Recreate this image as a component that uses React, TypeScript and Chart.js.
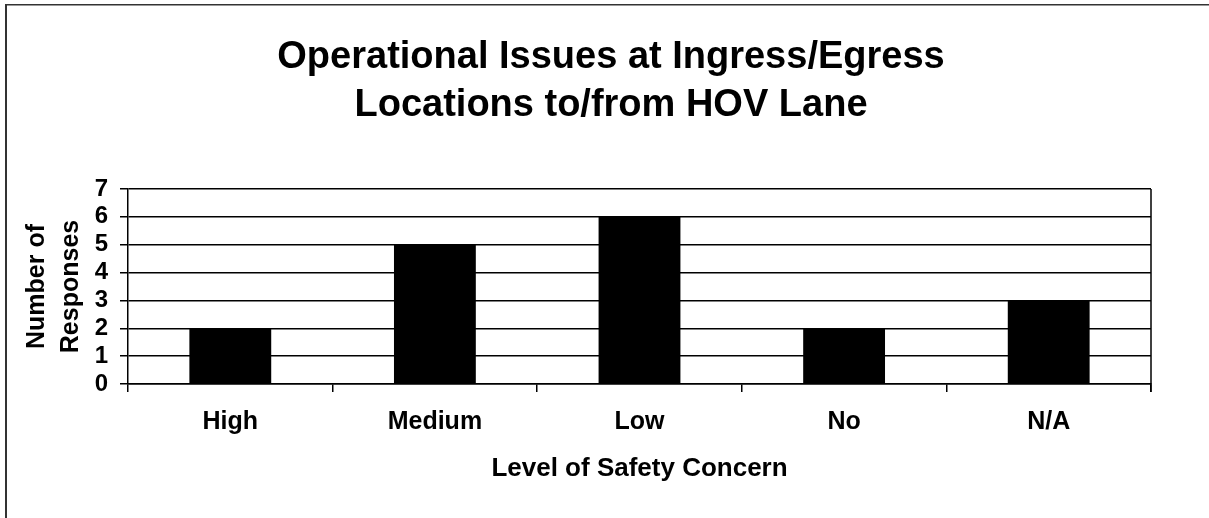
import React, { useEffect, useRef } from "react";
import { Chart, registerables } from "chart.js";

Chart.register(...registerables);

const categories = ["High", "Medium", "Low", "No", "N/A"];
const responses = [2, 5, 6, 2, 3];
const titleLines = ["Operational Issues at Ingress/Egress", "Locations to/from HOV Lane"];
const yTitleLines = ["Number of", "Responses"];
const xTitle = "Level of Safety Concern";
const yMin = 0;
const yMax = 7;
const yStep = 1;

const FONT = "'Liberation Sans', Arial, Helvetica, sans-serif";

const framePlugin = {
  id: "framePlugin",
  beforeDraw(chart: any) {
    const ctx = chart.ctx;
    ctx.save();
    ctx.fillStyle = "#ffffff";
    ctx.fillRect(0, 0, chart.width, chart.height);
    ctx.fillStyle = "#333333";
    ctx.fillRect(5, 4, 2, chart.height - 4);
    ctx.fillRect(5, 4, chart.width - 5, 1.5);
    ctx.restore();
  },
  afterDraw(chart: any) {
    const { ctx, chartArea } = chart;
    ctx.save();
    ctx.strokeStyle = "#000000";
    ctx.lineWidth = 1.5;
    ctx.beginPath();
    ctx.moveTo(chartArea.right, chartArea.top);
    ctx.lineTo(chartArea.right, chartArea.bottom + 8);
    ctx.stroke();
    ctx.restore();
  },
};

export default function App() {
  const ref = useRef<HTMLCanvasElement>(null);

  useEffect(() => {
    document.body.style.margin = "0";
    const canvas = ref.current;
    if (!canvas) return;
    const chart = new Chart(canvas, {
      type: "bar",
      data: {
        labels: categories,
        datasets: [
          {
            data: responses,
            backgroundColor: "#000000",
            borderColor: "#000000",
            borderWidth: 0,
            barPercentage: 0.4,
            categoryPercentage: 1.0,
            yAxisID: "y",
          },
        ],
      },
      options: {
        responsive: false,
        animation: false,
        devicePixelRatio: 1,
        layout: { padding: { left: 13, top: 0, right: 0, bottom: 0 } },
        plugins: {
          legend: { display: false },
          tooltip: { enabled: false },
          title: {
            display: true,
            text: titleLines,
            color: "#000000",
            font: { family: FONT, size: 38, weight: "bold", lineHeight: 1.25 },
            padding: { top: 34, bottom: 60 },
          },
        },
        scales: {
          x: {
            afterFit: (scale: any) => {
              scale.height = 134;
            },
            grid: {
              offset: true,
              drawOnChartArea: false,
              tickLength: 8,
              color: "#000000",
              lineWidth: 1.5,
            },
            border: { display: true, color: "#000000", width: 1.5 },
            ticks: {
              color: "#000000",
              padding: 15,
              font: { family: FONT, size: 25, weight: "bold", lineHeight: 1.2 },
            },
            title: {
              display: true,
              text: xTitle,
              color: "#000000",
              font: { family: FONT, size: 26, weight: "bold", lineHeight: 1.2 },
              padding: { top: 0, bottom: 33.5 },
            },
          },
          y: {
            min: yMin,
            max: yMax,
            afterFit: (scale: any) => {
              scale.width = 115;
            },
            grid: {
              drawOnChartArea: true,
              tickLength: 8,
              color: "#000000",
              lineWidth: 1.5,
            },
            border: { display: true, color: "#000000", width: 1.5 },
            ticks: {
              stepSize: yStep,
              autoSkip: false,
              color: "#000000",
              padding: 12,
              font: { family: FONT, size: 24, weight: "bold", lineHeight: 1.2 },
            },
            title: {
              display: true,
              text: yTitleLines,
              color: "#000000",
              font: { family: FONT, size: 25, weight: "bold", lineHeight: 1.36 },
              padding: { top: 7.5, bottom: 0 },
            },
          },
          yRight: {
            position: "right",
            min: yMin,
            max: yMax,
            display: true,
            afterFit: (scale: any) => {
              scale.width = 58;
            },
            grid: { display: false, drawOnChartArea: false },
            border: { display: false },
            ticks: { display: false },
          },
        },
      },
      plugins: [framePlugin],
    });
    return () => chart.destroy();
  }, []);

  return <canvas ref={ref} width={1209} height={518} style={{ display: "block" }} />;
}
